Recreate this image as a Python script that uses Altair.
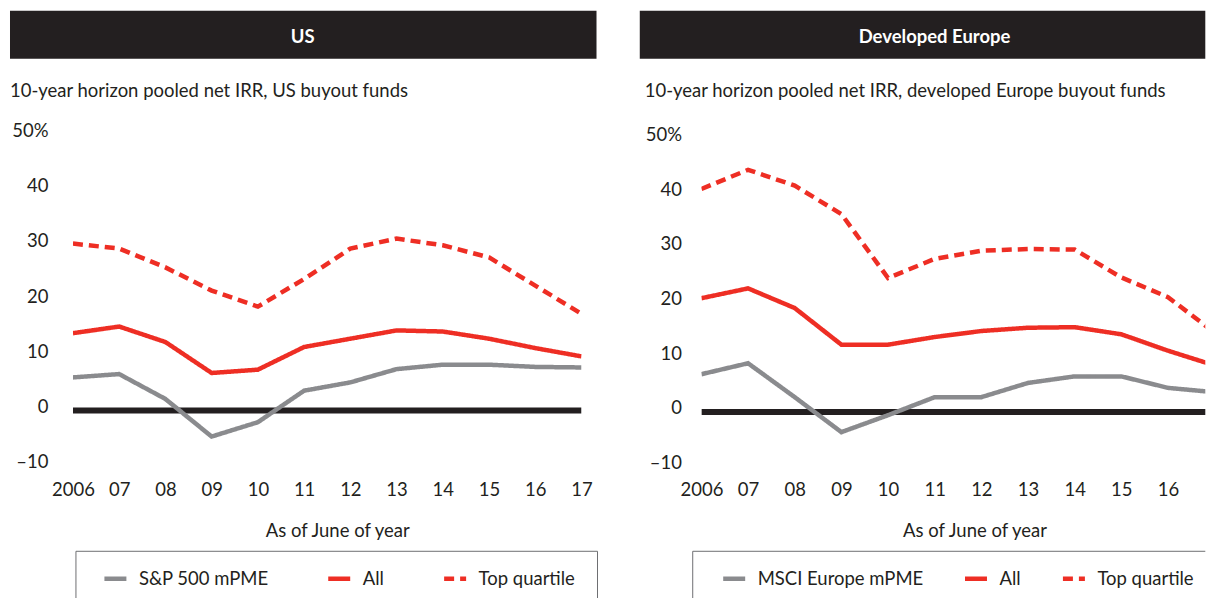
import altair as alt
import pandas as pd

# ---------------- data ----------------
years = list(range(2006, 2018))
y_ticks = [-10, 0, 10, 20, 30, 40, 50]

us_title = "US"
us_subtitle = "10-year horizon pooled net IRR, US buyout funds"
us_series = ["S&P 500 mPME", "All", "Top quartile"]
us_pme = [6.0, 6.6, 2.1, -4.7, -2.1, 3.6, 5.1, 7.5, 8.3, 8.3, 7.9, 7.8]
us_all = [14.0, 15.2, 12.4, 6.8, 7.4, 11.5, 13.0, 14.5, 14.3, 13.0, 11.3, 9.8]
us_top = [30.2, 29.3, 25.9, 21.7, 18.8, 23.8, 29.3, 31.1, 29.9, 27.7, 22.6, 17.5]

eu_title = "Developed Europe"
eu_subtitle = "10-year horizon pooled net IRR, developed Europe buyout funds"
eu_series = ["MSCI Europe mPME", "All", "Top quartile"]
eu_pme = [6.9, 8.9, 2.7, -3.7, -0.6, 2.7, 2.7, 5.3, 6.5, 6.5, 4.4, 3.6]
eu_all = [20.8, 22.6, 19.0, 12.3, 12.3, 13.7, 14.8, 15.4, 15.5, 14.2, 11.2, 8.5]
eu_top = [40.8, 44.3, 41.4, 36.2, 24.5, 28.0, 29.5, 29.8, 29.7, 24.6, 21.0, 14.5]

x_title = "As of June of year"

# ---------------- style ----------------
FONT = "Lato"
INK = "#231f20"
RED = "#ee2e24"
GRAY = "#8a8b8e"
BOX = "#6d6e71"
FS = 18.5


def panel(title, subtitle, series, values, g):
    rows = []
    for s, vals in zip(series, values):
        for yr, v in zip(years, vals):
            rows.append({"year": yr, "value": v, "series": s})
    df = pd.DataFrame(rows)

    xs = alt.Scale(domain=[years[0], g["xmax"]], nice=False, zero=False)
    ys = alt.Scale(domain=[y_ticks[0], g["ymax"]], nice=False, zero=False)

    x_axis = alt.Axis(
        values=g["xvals"],
        labelExpr="datum.value == 2006 ? '2006' : substring(toString(datum.value), 2)",
        title=x_title, titleFont=FONT, titleFontSize=FS, titleFontWeight="normal",
        titleColor=INK, titleX=g["titlex"], titleY=g["titley"], titleBaseline="middle",
        labelFont=FONT, labelFontSize=FS, labelColor=INK, labelPadding=g["xlp"],
        labelFlush=False, labelOverlap=False,
        domain=False, ticks=False, grid=False,
    )
    y_axis = alt.Axis(
        values=y_ticks,
        labelExpr="datum.value == 50 ? '50%' : (datum.value < 0 ? '\u2013' + abs(datum.value) : '' + datum.value)",
        title=None, labelFont=FONT, labelFontSize=FS, labelColor=INK,
        labelPadding=g["ylp"], labelOffset=-4,
        domain=False, ticks=False, grid=False,
    )

    leg = alt.Legend(
        orient="none", legendX=g["legx"], legendY=g["legy"], direction="horizontal",
        title=None, symbolType="stroke", symbolSize=484, symbolStrokeWidth=4.5,
        labelFont=FONT, labelFontSize=FS, labelColor=INK, labelOffset=10, labelLimit=400,
        columnPadding=g["colpad"], padding=0,
    )

    lines = alt.Chart(df).mark_line(clip=True, strokeWidth=4.5).encode(
        x=alt.X("year:Q", scale=xs, axis=x_axis),
        y=alt.Y("value:Q", scale=ys, axis=y_axis),
        color=alt.Color("series:N", scale=alt.Scale(domain=series, range=[GRAY, RED, RED]), legend=leg),
        strokeDash=alt.StrokeDash("series:N",
                                  scale=alt.Scale(domain=series, range=[[1, 0], [1, 0], [10, 6]]),
                                  legend=leg),
    )

    zero_df = pd.DataFrame({"year": [years[0]], "year2": [years[-1]], "value": [0]})
    zero = alt.Chart(zero_df).mark_rule(color=INK, strokeWidth=6, clip=True).encode(
        x=alt.X("year:Q", scale=xs, axis=x_axis),
        x2="year2:Q",
        y=alt.Y("value:Q", scale=ys, axis=y_axis),
    )

    one = pd.DataFrame({"t": [title], "s": [subtitle]})
    head = alt.Chart(one).mark_rect(color=INK).encode(
        x=alt.value(g["hx"]), x2=alt.value(g["hx2"]), y=alt.value(g["hy"]), y2=alt.value(g["hy2"]))
    head_t = alt.Chart(one).mark_text(color="white", font=FONT, fontSize=FS, fontWeight="bold",
                                      align="center", baseline="middle").encode(
        x=alt.value(g["tx"]), y=alt.value(g["ty"]), text="t:N")
    sub = alt.Chart(one).mark_text(color=INK, font=FONT, fontSize=FS, align="left",
                                   baseline="middle").encode(
        x=alt.value(g["hx"] + g["subdx"]), y=alt.value(g["sy"]), text="s:N")

    box = [
        alt.Chart(one).mark_rule(color=BOX, strokeWidth=1).encode(
            x=alt.value(g["bx"]), x2=alt.value(g["bx2"]), y=alt.value(g["by"])),
        alt.Chart(one).mark_rule(color=BOX, strokeWidth=1).encode(
            x=alt.value(g["bx"]), y=alt.value(g["by"]), y2=alt.value(g["bby"])),
    ]
    if g.get("bright", False):
        box.append(alt.Chart(one).mark_rule(color=BOX, strokeWidth=1).encode(
            x=alt.value(g["bx2"]), y=alt.value(g["by"]), y2=alt.value(g["bby"])))

    return alt.layer(head, head_t, sub, *box, zero, lines).properties(
        width=g["w"], height=g["h"])


# geometry (relative to each plot area's top-left corner)
g_us = dict(
    xmax=2017, ymax=50, xvals=years, w=509, h=332,
    hx=-63, hx2=524, hy=-123.5, hy2=-75.5, tx=230, ty=-97.5,
    subdx=0, sy=-43.5,
    bx=3, bx2=525, by=417.5, bby=464.5, bright=True,
    legx=29, legy=431.5, colpad=50,
    titlex=264.5, titley=64.5, xlp=14.5, ylp=25,
)
g_eu = dict(
    xmax=2016.8, ymax=50.82, xvals=years[:-1], w=504.3, h=332.7,
    hx=-61.7, hx2=504.3, hy=-123.5, hy2=-75.5, tx=233.3, ty=-97.5,
    subdx=5, sy=-43.5,
    bx=-8.7, bx2=504.3, by=417.5, bby=464.5, bright=False,
    legx=19.3, legy=431.5, colpad=32,
    titlex=273.3, titley=63.8, xlp=14, ylp=20,
)

left = panel(us_title, us_subtitle, us_series, [us_pme, us_all, us_top], g_us)
right = panel(eu_title, eu_subtitle, eu_series, [eu_pme, eu_all, eu_top], g_eu)

chart = alt.hconcat(left, right, spacing=41).resolve_scale(
    x="independent", y="independent", color="independent", strokeDash="independent"
).resolve_legend(color="independent", strokeDash="independent").resolve_axis(
    x="independent", y="independent"
).properties(
    padding={"left": 2, "top": 2, "right": 0, "bottom": 0},
    background="white",
).configure_view(stroke=None)

chart.save("out.html", embed_options={"renderer": "svg", "actions": False})
